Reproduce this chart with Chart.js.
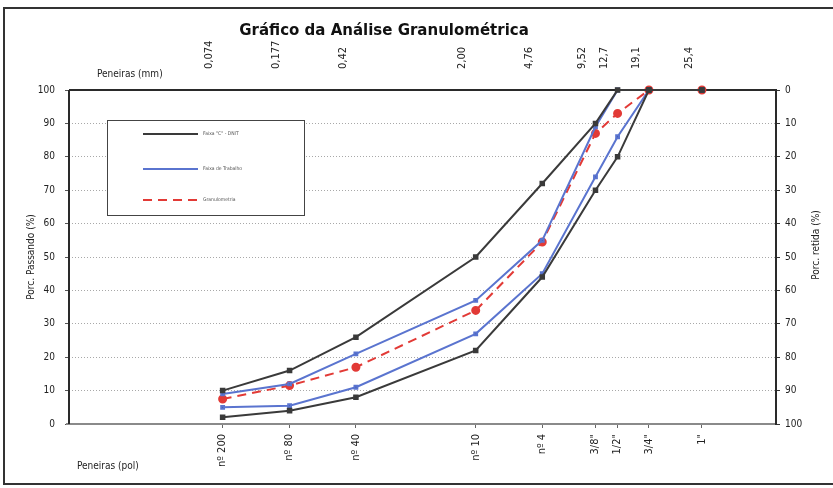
<!DOCTYPE html>
<html>
<head>
<meta charset="utf-8">
<title>Gráfico da Análise Granulométrica</title>
<script src="https://cdn.jsdelivr.net/npm/chart.js@4"></script>
<style>
  body { margin: 0; background: #fff; }
  #wrap { width: 833px; height: 488px; }
</style>
</head>
<body>
<div id="wrap"><canvas id="granChart"></canvas></div>
<script>
// sieve openings in mm (the 1" column sits at the 1 1/2" spot, as in the original sheet)
const sievePos = [0.074, 0.177, 0.42, 2.00, 4.76, 9.52, 12.7, 19.1, 38.1];
const mmLabels = ['0,074', '0,177', '0,42', '2,00', '4,76', '9,52', '12,7', '19,1', '25,4'];
const polLabels = ['nº 200', 'nº 80', 'nº 40', 'nº 10', 'nº 4', '3/8"', '1/2"', '3/4"', '1"'];

// % passing
const faixaCSup = [10, 16, 26, 50, 72, 90, 100, 100, 100];
const faixaCInf = [2, 4, 8, 22, 44, 70, 80, 100, 100];
const trabalhoSup = [9, 12, 21, 37, 55, 89, 100, 100, 100];
const trabalhoInf = [5, 5.5, 11, 27, 45, 74, 86, 100, 100];
const granulometria = [7.5, 11.5, 17, 34, 54.5, 87, 93, 100, 100];

const FONT = '"DejaVu Sans Condensed", "DejaVu Sans", sans-serif';
const GRAY = '#3a3a3a';
const BLUE = '#5a74cf';
const RED = '#e23a36';

function pts(arr) {
  return arr.map((v, i) => ({ x: sievePos[i], y: v }));
}

function line(ctx, x1, y1, x2, y2) {
  ctx.beginPath();
  ctx.moveTo(x1, y1);
  ctx.lineTo(x2, y2);
  ctx.stroke();
}

function vText(ctx, txt, x, y) {
  ctx.save();
  ctx.translate(x, y);
  ctx.rotate(-Math.PI / 2);
  ctx.textAlign = 'center';
  ctx.textBaseline = 'middle';
  ctx.fillText(txt, 0, 0);
  ctx.restore();
}

const decor = {
  id: 'decor',
  beforeDraw(chart) {
    const ctx = chart.ctx;
    ctx.save();
    ctx.fillStyle = '#fff';
    ctx.fillRect(0, 0, chart.width, chart.height);
    ctx.restore();
  },
  beforeDatasetsDraw(chart) {
    const { ctx, chartArea: a } = chart;
    ctx.save();
    ctx.lineWidth = 2;
    ctx.strokeStyle = '#8a8a8a';
    line(ctx, a.left - 3, a.bottom, a.right, a.bottom);
    ctx.strokeStyle = '#2a2a2a';
    line(ctx, a.left, a.top, a.right + 1, a.top);
    line(ctx, a.left, a.top, a.left, a.bottom);
    line(ctx, a.right, a.top, a.right, a.bottom + 1);
    ctx.restore();
  },
  afterDatasetsDraw(chart) {
    // legend box inside the plot
    const ctx = chart.ctx;
    ctx.save();
    ctx.fillStyle = '#fff';
    ctx.fillRect(107, 120, 197, 95);
    ctx.strokeStyle = '#444';
    ctx.lineWidth = 1;
    ctx.strokeRect(107.5, 120.5, 197, 95);
    const rows = [134, 169, 200];
    const items = chart.data.datasets.filter(d => d.inLegend);
    items.forEach((d, i) => {
      ctx.strokeStyle = d.borderColor;
      ctx.lineWidth = 2;
      ctx.setLineDash(d.borderDash || []);
      line(ctx, 143, rows[i], 198, rows[i]);
      ctx.setLineDash([]);
      ctx.fillStyle = '#555';
      ctx.font = '5px ' + FONT;
      ctx.textBaseline = 'middle';
      ctx.fillText(d.label, 203, rows[i]);
    });
    ctx.restore();
  },
  afterDraw(chart) {
    const ctx = chart.ctx;
    ctx.save();
    ctx.fillStyle = '#111';
    ctx.font = 'bold 15px "DejaVu Sans", sans-serif';
    ctx.textAlign = 'center';
    ctx.textBaseline = 'middle';
    ctx.fillText('Gráfico da Análise Granulométrica', 384, 31);

    ctx.font = '10px ' + FONT;
    ctx.fillStyle = '#222';
    ctx.textAlign = 'left';
    ctx.fillText('Peneiras (mm)', 97, 74);
    ctx.fillText('Peneiras (pol)', 77, 466);
    vText(ctx, 'Porc. Passando (%)', 31, 257);
    vText(ctx, 'Porc. retida (%)', 816, 245);

    // outer frame
    ctx.strokeStyle = '#333';
    ctx.lineWidth = 2;
    ctx.strokeRect(4, 8, 840, 476);
    ctx.restore();
  }
};

const datasets = [
  { label: 'Faixa "C" - DNIT', data: pts(faixaCSup), inLegend: true,
    borderColor: GRAY, backgroundColor: GRAY, borderWidth: 2,
    pointStyle: 'rect', pointRadius: 2.5 },
  { label: 'Faixa "C" - DNIT inf', data: pts(faixaCInf),
    borderColor: GRAY, backgroundColor: GRAY, borderWidth: 2,
    pointStyle: 'rect', pointRadius: 2.5 },
  { label: 'Faixa de Trabalho', data: pts(trabalhoSup), inLegend: true,
    borderColor: BLUE, backgroundColor: '#3d55a8', borderWidth: 2,
    pointStyle: 'rect', pointRadius: 2 },
  { label: 'Faixa de Trabalho inf', data: pts(trabalhoInf),
    borderColor: BLUE, backgroundColor: '#3d55a8', borderWidth: 2,
    pointStyle: 'rect', pointRadius: 2 },
  { label: 'Granulometria', data: pts(granulometria), inLegend: true,
    borderColor: RED, backgroundColor: RED, borderWidth: 2, borderDash: [9, 6],
    pointStyle: 'circle', pointRadius: 3.5 }
];

const tickFont = { family: FONT, size: 10 };
const sieveFont = { family: FONT, size: 11 };

new Chart(document.getElementById('granChart'), {
  type: 'line',
  data: { datasets: datasets },
  plugins: [decor],
  options: {
    responsive: true,
    maintainAspectRatio: false,
    animation: false,
    layout: { padding: 0 },
    elements: { line: { tension: 0 } },
    datasets: { line: { clip: false } },
    plugins: { legend: { display: false }, title: { display: false }, tooltip: { enabled: false } },
    scales: {
      x: {
        type: 'logarithmic', position: 'bottom', min: 0.01, max: 100,
        afterBuildTicks: s => { s.ticks = sievePos.map(v => ({ value: v })); },
        afterFit: s => { s.height = 64; },
        border: { display: false },
        grid: { drawOnChartArea: false, drawTicks: true, tickLength: 4, tickColor: '#666' },
        ticks: { autoSkip: false, minRotation: 90, maxRotation: 90, padding: 6,
          color: '#222', font: sieveFont, callback: (v, i) => polLabels[i] }
      },
      x2: {
        type: 'logarithmic', position: 'top', min: 0.01, max: 100,
        afterBuildTicks: s => { s.ticks = sievePos.map(v => ({ value: v })); },
        afterFit: s => { s.height = 90; },
        border: { display: false },
        grid: { drawOnChartArea: false, drawTicks: false },
        ticks: { autoSkip: false, minRotation: 90, maxRotation: 90, padding: 21,
          color: '#222', font: sieveFont, callback: (v, i) => mmLabels[i] }
      },
      y: {
        position: 'left', min: 0, max: 100,
        afterFit: s => { s.width = 69; },
        border: { display: false, dash: [1, 2] },
        grid: { color: '#a8a8a8', lineWidth: 1, drawTicks: true, tickLength: 4, tickColor: '#555' },
        ticks: { stepSize: 10, padding: 10, color: '#222', font: tickFont }
      },
      y2: {
        position: 'right', min: 0, max: 100, reverse: true,
        afterFit: s => { s.width = 57; },
        border: { display: false },
        grid: { drawOnChartArea: false, drawTicks: true, tickLength: 4, tickColor: '#333' },
        ticks: { stepSize: 10, padding: 5, color: '#222', font: tickFont }
      }
    }
  }
});
</script>
</body>
</html>
